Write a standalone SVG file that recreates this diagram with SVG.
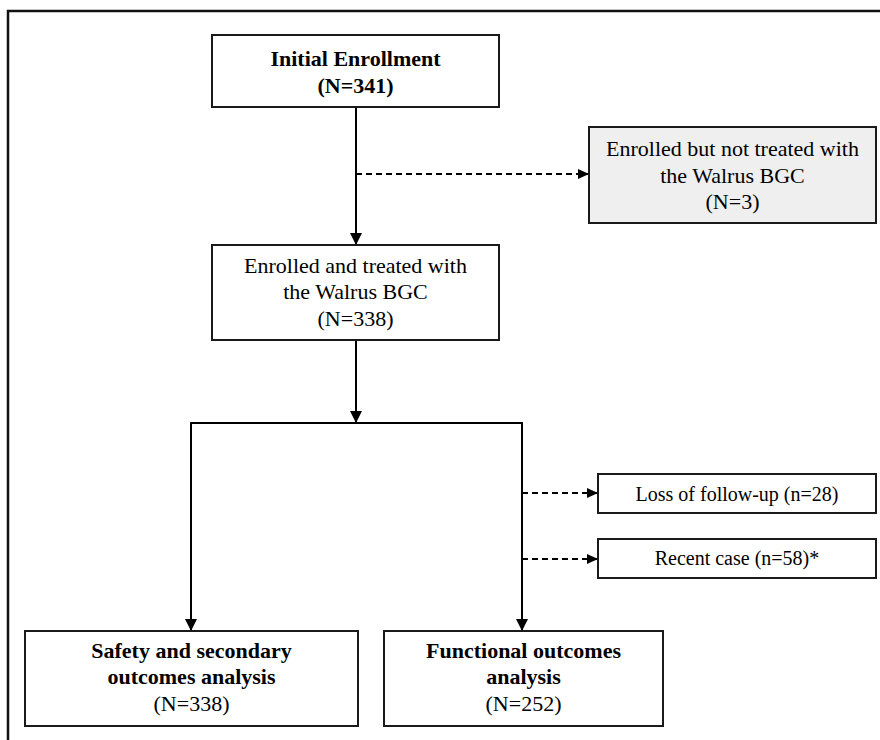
<svg xmlns="http://www.w3.org/2000/svg" width="880" height="740" viewBox="0 0 880 740">
<style>
.box{fill:#ffffff;stroke:#1a1a1a;stroke-width:2}
.gray{fill:#efefef;stroke:#1a1a1a;stroke-width:2}
.t{font-family:"Liberation Serif","Times New Roman",serif;font-size:22px;fill:#000;text-anchor:middle}
.b{font-weight:bold}
.s{font-size:20px}
.ln{fill:none;stroke:#000;stroke-width:2}
.dash{fill:none;stroke:#000;stroke-width:2;stroke-dasharray:6 4}
.frame{fill:none;stroke:#111;stroke-width:2.5}
</style>
<defs>
<marker id="arr" markerUnits="userSpaceOnUse" markerWidth="12" markerHeight="12" refX="12" refY="6" orient="auto">
<path d="M0,0 L12,6 L0,12 z" fill="#000"/>
</marker>
<marker id="arrd" markerUnits="userSpaceOnUse" markerWidth="11" markerHeight="10" refX="11" refY="5" orient="auto">
<path d="M0,0 L11,5 L0,10 z" fill="#000"/>
</marker>
</defs>
<rect width="880" height="740" fill="#ffffff"/>
<path class="frame" d="M8,740 L8,11 L880,11"/>
<g id="connectors">
<line class="ln" x1="356" y1="107" x2="356" y2="245" marker-end="url(#arr)"/>
<line class="dash" x1="356" y1="174" x2="589" y2="174" marker-end="url(#arrd)"/>
<line class="ln" x1="356" y1="340" x2="356" y2="423" marker-end="url(#arr)"/>
<path class="ln" d="M191,631 L191,423 L522,423 L522,631"/>
<line class="ln" x1="191" y1="600" x2="191" y2="631" marker-end="url(#arr)"/>
<line class="ln" x1="522" y1="600" x2="522" y2="631" marker-end="url(#arr)"/>
<line class="dash" x1="522" y1="493" x2="598" y2="493" marker-end="url(#arrd)"/>
<line class="dash" x1="522" y1="559" x2="598" y2="559" marker-end="url(#arrd)"/>
</g>
<g id="initial">
<rect class="box" x="212" y="35" width="287" height="72"/>
<text class="t b" x="355.5" y="66">Initial Enrollment</text>
<text class="t b" x="355.5" y="93">(N=341)</text>
</g>
<g id="not-treated">
<rect class="gray" x="589" y="127" width="287" height="96"/>
<text class="t" x="732.5" y="156">Enrolled but not treated with</text>
<text class="t" x="732.5" y="183">the Walrus BGC</text>
<text class="t" x="732.5" y="209">(N=3)</text>
</g>
<g id="treated">
<rect class="box" x="212" y="245" width="287" height="95"/>
<text class="t" x="355.5" y="273">Enrolled and treated with</text>
<text class="t" x="355.5" y="299">the Walrus BGC</text>
<text class="t" x="355.5" y="326">(N=338)</text>
</g>
<g id="loss">
<rect class="box" x="598" y="474" width="278" height="39"/>
<text class="t s" x="737" y="501">Loss of follow-up (n=28)</text>
</g>
<g id="recent">
<rect class="box" x="598" y="539" width="278" height="39"/>
<text class="t s" x="737" y="565">Recent case (n=58)*</text>
</g>
<g id="safety">
<rect class="box" x="25" y="631" width="333" height="95"/>
<text class="t b" x="191.5" y="658">Safety and secondary</text>
<text class="t b" x="191.5" y="684">outcomes analysis</text>
<text class="t" x="191.5" y="711">(N=338)</text>
</g>
<g id="functional">
<rect class="box" x="384" y="631" width="279" height="95"/>
<text class="t b" x="523.5" y="658">Functional outcomes</text>
<text class="t b" x="523.5" y="684">analysis</text>
<text class="t" x="523.5" y="711">(N=252)</text>
</g>
</svg>
